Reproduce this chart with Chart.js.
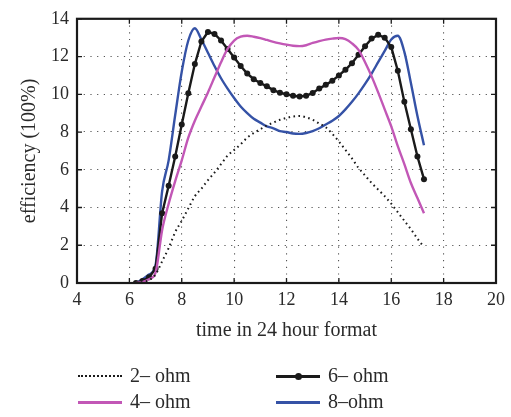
<!DOCTYPE html>
<html>
<head>
<meta charset="utf-8">
<script src="https://cdn.jsdelivr.net/npm/chart.js"></script>
<style>
  html, body { margin: 0; padding: 0; background: #fff; }
  #wrap { position: relative; width: 511px; height: 417px; }
  #chart { position: absolute; left: 0; top: 0; }
  .leg { position: absolute; font-family: "Liberation Serif", "DejaVu Serif", serif; font-size: 20px; color: #2a2a2a;
         display: flex; align-items: center; white-space: nowrap; }
  .sample { position: relative; width: 44px; height: 10px; margin-right: 8px; }
  .sample .ln { position: absolute; left: 0; right: 0; top: 4px; }
  .sample .dot { position: absolute; left: 19px; top: 2px; width: 7px; height: 7px; border-radius: 50%; background: #1a1a1a; }
</style>
</head>
<body>
<div id="wrap">
  <canvas id="chart" width="511" height="417"></canvas>
  <div id="legend"></div>
</div>
<script>
// hours of the day (0.25 h steps)
var times = [6.25, 6.5, 6.75, 7.0, 7.25, 7.5, 7.75, 8.0, 8.25, 8.5, 8.75, 9.0, 9.25, 9.5, 9.75, 10.0,
  10.25, 10.5, 10.75, 11.0, 11.25, 11.5, 11.75, 12.0, 12.25, 12.5, 12.75, 13.0, 13.25, 13.5, 13.75, 14.0,
  14.25, 14.5, 14.75, 15.0, 15.25, 15.5, 15.75, 16.0, 16.25, 16.5, 16.75, 17.0, 17.25];

var ohm2 = [0.0, 0.05, 0.15, 0.45, 1.15, 1.85, 2.7, 3.3, 3.95, 4.6, 5.0, 5.45, 5.85, 6.3, 6.75, 7.05,
  7.35, 7.7, 7.95, 8.15, 8.35, 8.5, 8.65, 8.75, 8.82, 8.85, 8.78, 8.65, 8.45, 8.25, 7.9, 7.5,
  7.05, 6.6, 6.1, 5.7, 5.3, 4.95, 4.6, 4.2, 3.75, 3.3, 2.85, 2.35, 1.9];

var ohm4 = [0.0, 0.05, 0.2, 0.55, 2.8, 4.2, 5.4, 6.5, 7.7, 8.6, 9.35, 10.1, 10.9, 11.7, 12.4, 12.85,
  13.05, 13.1, 13.05, 12.98, 12.88, 12.78, 12.7, 12.63, 12.57, 12.55, 12.6, 12.72, 12.82, 12.9, 12.95, 12.98,
  12.92, 12.7, 12.35, 11.7, 10.95, 10.1, 9.2, 8.3, 7.25, 6.3, 5.3, 4.5, 3.7];

var ohm6 = [0.0, 0.1, 0.3, 0.75, 3.7, 5.15, 6.7, 8.4, 10.05, 11.6, 12.8, 13.3, 13.2, 12.85, 12.4, 11.95,
  11.5, 11.1, 10.8, 10.6, 10.42, 10.22, 10.08, 10.0, 9.92, 9.88, 9.92, 10.07, 10.3, 10.5, 10.72, 11.0,
  11.3, 11.65, 12.1, 12.55, 12.95, 13.15, 13.0, 12.5, 11.25, 9.6, 8.15, 6.7, 5.5];

var ohm8 = [0.0, 0.2, 0.45, 0.95, 4.85, 6.5, 8.9, 11.2, 12.85, 13.5, 12.9, 12.2, 11.5, 10.85, 10.3, 9.8,
  9.35, 9.0, 8.7, 8.5, 8.3, 8.2, 8.05, 8.0, 7.92, 7.9, 7.95, 8.05, 8.2, 8.4, 8.6, 8.85,
  9.2, 9.6, 10.05, 10.55, 11.1, 11.7, 12.3, 12.9, 13.1, 12.25, 10.6, 8.85, 7.3];

var seriesNames = ['2\u2013 ohm', '4\u2013 ohm', '6\u2013 ohm', '8\u2013ohm'];

function pts(vals) {
  return times.map(function (t, i) { return { x: t, y: vals[i] }; });
}

var serif = '"Liberation Serif", "DejaVu Serif", serif';
var textColor = '#2a2a2a';

// box frame with inward tick marks, like the original plot
var framePlugin = {
  id: 'frame',
  afterDatasetsDraw: function (chart) {
    var c = chart.ctx, a = chart.chartArea;
    var xs = chart.scales.x, ys = chart.scales.y;
    c.save();
    c.strokeStyle = '#1a1a1a';
    c.lineWidth = 1.3;
    c.beginPath();
    xs.ticks.forEach(function (t) {
      var p = xs.getPixelForValue(t.value);
      c.moveTo(p, a.bottom); c.lineTo(p, a.bottom - 5);
      c.moveTo(p, a.top); c.lineTo(p, a.top + 5);
    });
    ys.ticks.forEach(function (t) {
      var p = ys.getPixelForValue(t.value);
      c.moveTo(a.left, p); c.lineTo(a.left + 5, p);
      c.moveTo(a.right, p); c.lineTo(a.right - 5, p);
    });
    c.stroke();
    c.lineWidth = 2.2;
    c.strokeRect(a.left, a.top, a.right - a.left, a.bottom - a.top);
    c.restore();
  }
};

var ctx = document.getElementById('chart').getContext('2d');
var chart = new Chart(ctx, {
  type: 'line',
  data: {
    datasets: [{
      label: seriesNames[0],
      data: pts(ohm2),
      borderColor: '#1a1a1a',
      borderWidth: 2,
      borderDash: [1.6, 3.4],
      pointRadius: 0,
      cubicInterpolationMode: 'monotone'
    }, {
      label: seriesNames[1],
      data: pts(ohm4),
      borderColor: '#c257b6',
      borderWidth: 2.4,
      pointRadius: 0,
      cubicInterpolationMode: 'monotone'
    }, {
      label: seriesNames[2],
      data: pts(ohm6),
      borderColor: '#1a1a1a',
      backgroundColor: '#1a1a1a',
      borderWidth: 2.4,
      pointRadius: 3,
      pointBorderWidth: 0,
      tension: 0
    }, {
      label: seriesNames[3],
      data: pts(ohm8),
      borderColor: '#3552a6',
      borderWidth: 2.4,
      pointRadius: 0,
      cubicInterpolationMode: 'monotone'
    }]
  },
  options: {
    responsive: false,
    animation: false,
    events: [],
    layout: { padding: { top: 14, right: 14, left: 0, bottom: 70 } },
    plugins: {
      legend: { display: false },
      tooltip: { enabled: false }
    },
    scales: {
      x: {
        type: 'linear',
        min: 4, max: 20,
        ticks: { stepSize: 2, color: textColor, font: { family: serif, size: 18 }, padding: 6 },
        grid: { color: '#555', lineWidth: 1.1, drawTicks: false },
        border: { display: false, dash: [1.2, 5.5] },
        title: { display: true, text: 'time in 24 hour format', color: textColor,
                 font: { family: serif, size: 20 }, padding: { top: 5 } },
        afterFit: function (s) { s.height = 417 - 70 - 283; }
      },
      y: {
        min: 0, max: 14,
        ticks: { stepSize: 2, color: textColor, font: { family: serif, size: 18 }, padding: 8 },
        grid: { color: '#555', lineWidth: 1.1, drawTicks: false },
        border: { display: false, dash: [1.2, 5.5] },
        title: { display: true, text: 'efficiency (100%)', color: textColor,
                 font: { family: serif, size: 20 }, padding: { top: 18, bottom: 0 } },
        afterFit: function (s) { s.width = 77; }
      }
    }
  },
  plugins: [framePlugin]
});

// two-column legend under the plot
var legendPos = [[78, 376], [78, 402], [276, 376], [276, 402]];
var legendEl = document.getElementById('legend');
chart.data.datasets.forEach(function (ds, i) {
  var item = document.createElement('div');
  item.className = 'leg';
  item.style.left = legendPos[i][0] + 'px';
  item.style.top = (legendPos[i][1] - 12) + 'px';
  var s = document.createElement('div');
  s.className = 'sample';
  var ln = document.createElement('div');
  ln.className = 'ln';
  if (ds.borderDash) {
    ln.style.borderTop = '2px dotted ' + ds.borderColor;
  } else {
    ln.style.borderTop = '3px solid ' + ds.borderColor;
  }
  s.appendChild(ln);
  if (ds.pointRadius > 0) {
    var d = document.createElement('div');
    d.className = 'dot';
    s.appendChild(d);
  }
  item.appendChild(s);
  var tx = document.createElement('span');
  tx.textContent = ds.label;
  item.appendChild(tx);
  legendEl.appendChild(item);
});
</script>
</body>
</html>
